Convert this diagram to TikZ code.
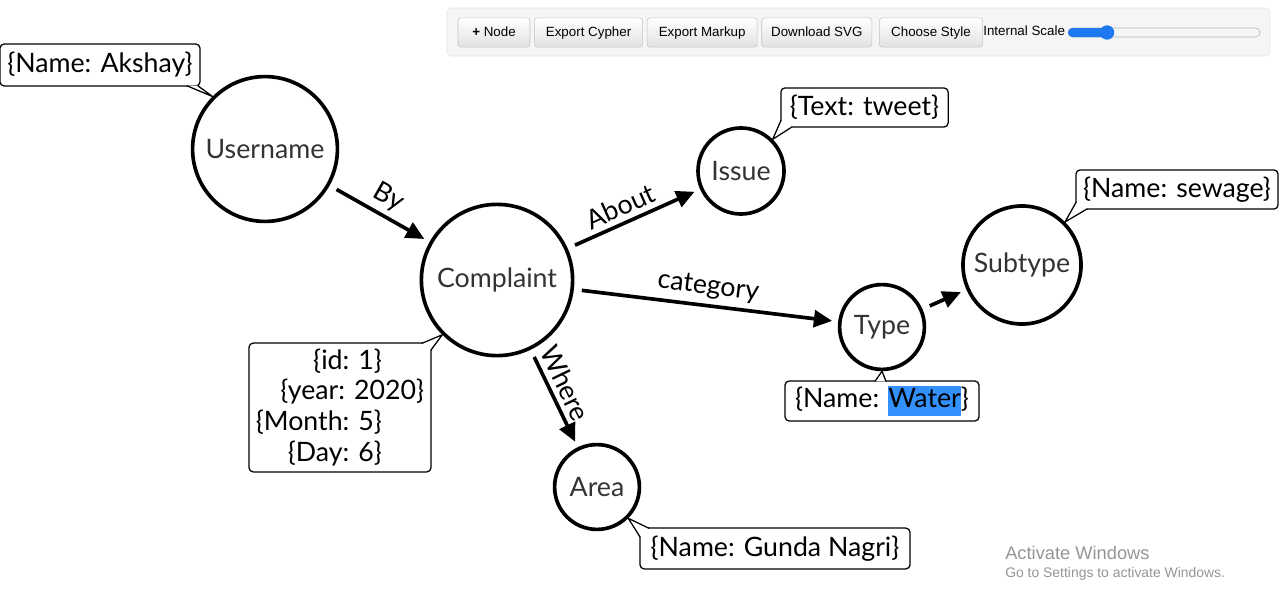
\documentclass[tikz,border=0pt]{standalone}
\usepackage{fontspec}
\setmainfont{Lato}
\newfontfamily\uifont{Liberation Sans}
\usepackage{tikz}
\usepackage{xcolor}
\usetikzlibrary{positioning, calc, arrows.meta}

\definecolor{nodetext}{RGB}{51,51,51}
\definecolor{panelfill}{RGB}{245,245,245}
\definecolor{panelline}{RGB}{227,227,227}
\definecolor{btngray}{RGB}{226,226,226}
\definecolor{btnline}{RGB}{195,195,195}
\definecolor{slider}{RGB}{30,120,240}
\definecolor{selblue}{RGB}{51,144,255}
\definecolor{winmark}{RGB}{150,150,150}

\newcommand{\graphtxt}{\fontsize{19}{22}\selectfont}
\newcommand{\uitxt}{\uifont\fontsize{9.5}{11}\selectfont}
% tail of a property box: base 1, base 2, tip
\newcommand{\calltail}[3]{%
  \fill[white] (#1) -- (#3) -- (#2) -- cycle;
  \draw[line width=0.9pt, line join=round] (#1) -- (#3) -- (#2);
}
\setlength{\fboxsep}{0pt}

\begin{document}
\begin{tikzpicture}[x=0.025cm, y=-0.025cm, node distance=0.1cm,
    main/.style = {draw, circle, line width=2.6pt, text=nodetext, font=\graphtxt, inner sep=0pt},
    prop/.style = {draw, rounded corners=3pt, line width=0.9pt, fill=white, font=\graphtxt, inner sep=3pt},
    rel/.style = {line width=2.6pt, -{Triangle[length=13pt, width=12pt]}, shorten <=0.2cm, shorten >=0.15cm},
    lbl/.style = {font=\graphtxt, sloped, above, inner sep=3.5pt},
    btn/.style = {draw=btnline, rounded corners=2pt, top color=white, bottom color=btngray, font=\uitxt,
                  minimum height=0.73cm, inner sep=0pt, text height=7pt, text depth=2pt}]

    \useasboundingbox[fill=white] (0,0) rectangle (1280,598);

    % Toolbar
    \draw[draw=panelline, fill=panelfill, rounded corners=3pt] (447,8) rectangle (1270,56);
    \node[btn, minimum width=1.8cm] (b1) at (494,32.5) {\textbf{+} Node};
    \node[btn, minimum width=2.7cm, right=of b1] (b2) {Export Cypher};
    \node[btn, minimum width=2.75cm, right=of b2] (b3) {Export Markup};
    \node[btn, minimum width=2.75cm, right=of b3] (b4) {Download SVG};
    \node[btn, minimum width=2.58cm, right=0.175cm of b4] (b5) {Choose Style};
    \node[font=\uitxt, anchor=west, inner sep=0pt] (scale) at (983,31) {Internal Scale};
    \draw[draw=gray!60, fill=panelfill, rounded corners=0.11cm] (1068,28) rectangle (1260,37);
    \fill[slider, rounded corners=0.11cm] (1068,28) rectangle (1110,37);
    \node[circle, fill=slider, minimum size=0.36cm, inner sep=0pt] (knob) at (1107,32.5) {};

    % Nodes
    \node[main, minimum size=3.62cm] (user) at (265,149) {Username};
    \node[main, minimum size=3.78cm] (comp) at (497,280) {Complaint};
    \node[main, minimum size=2.15cm] (issue) at (741,171) {Issue};
    \node[main, minimum size=2.12cm] (type) at (882,327) {Type};
    \node[main, minimum size=2.95cm] (sub) at (1022,265) {Subtype};
    \node[main, minimum size=2.12cm] (area) at (597,487) {Area};

    % Lines
    \draw[rel] (user) -- (comp) node[lbl, midway] {By};
    \draw[rel] (comp) -- (issue) node[lbl, pos=0.45] {About};
    \draw[rel] (comp) -- (type) node[lbl, midway] {category};
    \draw[rel] (comp) -- (area) node[lbl, pos=0.42] {Where};
    \draw[rel] (type) -- (sub);

    % Properties
    \node[prop, minimum width=5cm, minimum height=1.05cm] (pa) at (100,65) {\{Name: Akshay\}};
    \coordinate (pa1) at ($(pa.south east)+(-14,-1)$);
    \coordinate (pa2) at ($(pa.south east)+(-3,-1)$);
    \calltail{pa1}{pa2}{user.135}

    \node[prop, minimum width=4.18cm, minimum height=0.98cm] (pb) at (864.5,107.5) {\{Text: tweet\}};
    \coordinate (pb1) at ($(pb.south west)+(1,-8)$);
    \coordinate (pb2) at ($(pb.south west)+(12,-1)$);
    \calltail{pb1}{pb2}{issue.45}

    \node[prop, minimum width=5.05cm, minimum height=0.98cm] (pc) at (1177,189.5) {\{Name: sewage\}};
    \coordinate (pc1) at ($(pc.south west)+(1,-8)$);
    \coordinate (pc2) at ($(pc.south west)+(12,-1)$);
    \calltail{pc1}{pc2}{sub.45}

    \node[prop, minimum width=4.85cm, minimum height=1cm] (pd) at (882,401) {\{Name: \colorbox{selblue}{\strut Water}\}};
    \coordinate (pd1) at ($(pd.north)+(-7,1)$);
    \coordinate (pd2) at ($(pd.north)+(4,1)$);
    \calltail{pd1}{pd2}{type.south}

    \node[prop, minimum width=4.55cm, minimum height=3.22cm, align=right] (pe) at (340,407.5)
        {\{id: 1\}\rule{30pt}{0pt}\\ \{year: 2020\}\\ \{Month: 5\}\rule{30pt}{0pt}\\ \{Day: 6\}\rule{30pt}{0pt}};
    \coordinate (pe1) at ($(pe.north east)+(-10,1)$);
    \coordinate (pe2) at ($(pe.north east)+(-1,8)$);
    \calltail{pe1}{pe2}{comp.225}

    \node[prop, minimum width=6.75cm, minimum height=1.02cm] (pf) at (775,548.5) {\{Name: Gunda Nagri\}};
    \coordinate (pf1) at ($(pf.north west)+(1,10)$);
    \coordinate (pf2) at ($(pf.north west)+(10,1)$);
    \calltail{pf1}{pf2}{area.315}

    % Watermark
    \node[anchor=west, text=winmark, font={\uifont\fontsize{13}{15}\selectfont}, inner sep=0pt] (act) at (1005,553) {Activate Windows};
    \node[anchor=west, text=winmark, font={\uifont\fontsize{9.9}{12}\selectfont}, inner sep=0pt] (goto) at (1005,574) {Go to Settings to activate Windows.};
\end{tikzpicture}
\end{document}
